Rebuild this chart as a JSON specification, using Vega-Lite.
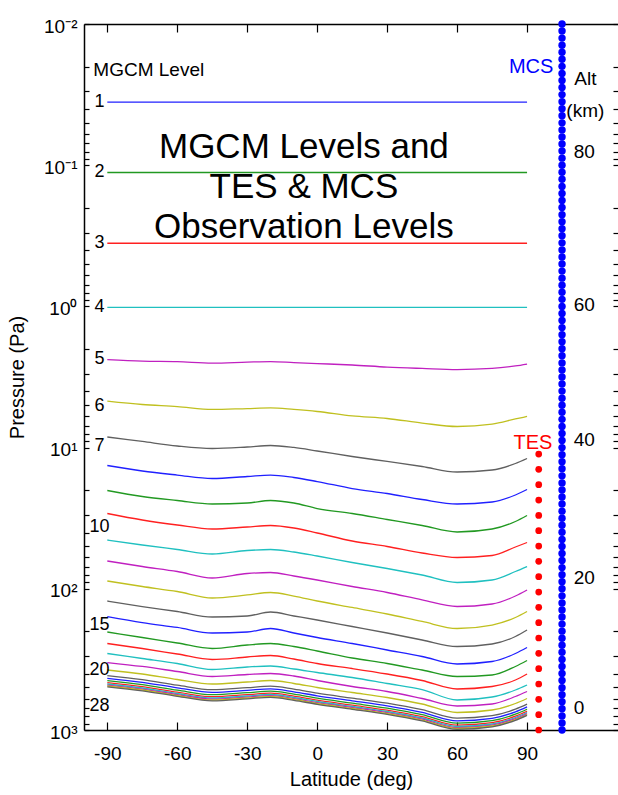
{
  "$schema": "https://vega.github.io/schema/vega-lite/v6.json",
  "width": 534,
  "height": 706,
  "autosize": {"type": "none"},
  "padding": {"left": 84, "top": 24, "right": 0, "bottom": 65},
  "background": "white",
  "config": {
    "view": {"stroke": null},
    "text": {"font": "Liberation Sans"},
    "axis": {"labelFont": "Liberation Sans", "titleFont": "Liberation Sans", "grid": false, "domainColor": "black", "tickColor": "black", "labelColor": "black", "titleColor": "black", "titleFontWeight": "normal", "domainWidth": 1.5, "tickWidth": 1.2}
  },
  "datasets": {
    "levels": [
      {"level":1,"lat":-90,"p":0.0357},{"level":1,"lat":90,"p":0.0357},
      {"level":2,"lat":-90,"p":0.1126},{"level":2,"lat":90,"p":0.1126},
      {"level":3,"lat":-90,"p":0.357},{"level":3,"lat":90,"p":0.357},
      {"level":4,"lat":-90,"p":1.015},{"level":4,"lat":90,"p":1.015},
      {"level":5,"lat":-90,"p":2.38},{"level":5,"lat":-75,"p":2.44},{"level":5,"lat":-60,"p":2.46},{"level":5,"lat":-45,"p":2.52},{"level":5,"lat":-30,"p":2.48},{"level":5,"lat":-20,"p":2.46},{"level":5,"lat":-10,"p":2.50},{"level":5,"lat":0,"p":2.54},{"level":5,"lat":15,"p":2.60},{"level":5,"lat":30,"p":2.69},{"level":5,"lat":45,"p":2.75},{"level":5,"lat":60,"p":2.80},{"level":5,"lat":75,"p":2.75},{"level":5,"lat":85,"p":2.64},{"level":5,"lat":90,"p":2.56},
      {"level":6,"lat":-90,"p":4.68},{"level":6,"lat":-75,"p":4.95},{"level":6,"lat":-60,"p":5.12},{"level":6,"lat":-45,"p":5.37},{"level":6,"lat":-30,"p":5.29},{"level":6,"lat":-20,"p":5.24},{"level":6,"lat":-10,"p":5.37},{"level":6,"lat":0,"p":5.55},{"level":6,"lat":15,"p":5.97},{"level":6,"lat":30,"p":6.22},{"level":6,"lat":45,"p":6.70},{"level":6,"lat":60,"p":7.09},{"level":6,"lat":75,"p":6.81},{"level":6,"lat":85,"p":6.27},{"level":6,"lat":90,"p":6.02},
      {"level":7,"lat":-90,"p":8.41},{"level":7,"lat":-75,"p":9.05},{"level":7,"lat":-60,"p":9.74},{"level":7,"lat":-45,"p":10.15},{"level":7,"lat":-30,"p":9.90},{"level":7,"lat":-20,"p":9.66},{"level":7,"lat":-10,"p":9.98},{"level":7,"lat":0,"p":10.57},{"level":7,"lat":15,"p":11.56},{"level":7,"lat":30,"p":12.54},{"level":7,"lat":45,"p":13.61},{"level":7,"lat":60,"p":14.89},{"level":7,"lat":75,"p":14.41},{"level":7,"lat":85,"p":12.96},{"level":7,"lat":90,"p":11.95},
      {"level":8,"lat":-90,"p":13.39},{"level":8,"lat":-75,"p":14.65},{"level":8,"lat":-60,"p":15.64},{"level":8,"lat":-45,"p":16.55},{"level":8,"lat":-30,"p":16.02},{"level":8,"lat":-20,"p":15.64},{"level":8,"lat":-10,"p":16.28},{"level":8,"lat":0,"p":17.39},{"level":8,"lat":15,"p":19.49},{"level":8,"lat":30,"p":21.14},{"level":8,"lat":45,"p":23.31},{"level":8,"lat":60,"p":25.08},{"level":8,"lat":75,"p":24.28},{"level":8,"lat":85,"p":21.66},{"level":8,"lat":90,"p":19.81},
      {"level":9,"lat":-90,"p":20.13},{"level":9,"lat":-75,"p":22.20},{"level":9,"lat":-60,"p":23.69},{"level":9,"lat":-45,"p":25.08},{"level":9,"lat":-30,"p":24.68},{"level":9,"lat":-20,"p":23.69},{"level":9,"lat":-10,"p":24.68},{"level":9,"lat":0,"p":27.01},{"level":9,"lat":15,"p":29.29},{"level":9,"lat":30,"p":32.30},{"level":9,"lat":45,"p":35.62},{"level":9,"lat":60,"p":39.60},{"level":9,"lat":75,"p":37.71},{"level":9,"lat":85,"p":33.38},{"level":9,"lat":90,"p":30.26},
      {"level":10,"lat":-90,"p":29.29},{"level":10,"lat":-75,"p":32.56},{"level":10,"lat":-60,"p":35.33},{"level":10,"lat":-45,"p":37.71},{"level":10,"lat":-30,"p":36.50},{"level":10,"lat":-20,"p":35.62},{"level":10,"lat":-10,"p":37.10},{"level":10,"lat":0,"p":40.25},{"level":10,"lat":15,"p":45.86},{"level":10,"lat":30,"p":50.17},{"level":10,"lat":45,"p":55.78},{"level":10,"lat":60,"p":60.02},{"level":10,"lat":75,"p":58.10},{"level":10,"lat":85,"p":50.58},{"level":10,"lat":90,"p":47.00},
      {"level":11,"lat":-90,"p":45.11},{"level":11,"lat":-75,"p":48.95},{"level":11,"lat":-60,"p":52.69},{"level":11,"lat":-45,"p":56.68},{"level":11,"lat":-30,"p":53.56},{"level":11,"lat":-20,"p":52.69},{"level":11,"lat":-10,"p":54.88},{"level":11,"lat":0,"p":58.57},{"level":11,"lat":15,"p":65.13},{"level":11,"lat":30,"p":71.81},{"level":11,"lat":45,"p":79.86},{"level":11,"lat":60,"p":90.24},{"level":11,"lat":75,"p":86.63},{"level":11,"lat":85,"p":75.42},{"level":11,"lat":90,"p":69.52},
      {"level":12,"lat":-90,"p":63.55},{"level":12,"lat":-75,"p":69.52},{"level":12,"lat":-60,"p":75.42},{"level":12,"lat":-45,"p":83.83},{"level":12,"lat":-30,"p":77.91},{"level":12,"lat":-20,"p":76.66},{"level":12,"lat":-10,"p":81.17},{"level":12,"lat":0,"p":86.63},{"level":12,"lat":15,"p":96.31},{"level":12,"lat":30,"p":106.2},{"level":12,"lat":45,"p":120.0},{"level":12,"lat":60,"p":133.5},{"level":12,"lat":75,"p":128.1},{"level":12,"lat":85,"p":112.5},{"level":12,"lat":90,"p":102.0},
      {"level":13,"lat":-90,"p":88.06},{"level":13,"lat":-75,"p":96.31},{"level":13,"lat":-60,"p":104.5},{"level":13,"lat":-45,"p":116.2},{"level":13,"lat":-30,"p":110.6},{"level":13,"lat":-20,"p":106.2},{"level":13,"lat":-10,"p":112.5},{"level":13,"lat":0,"p":122.0},{"level":13,"lat":15,"p":135.6},{"level":13,"lat":30,"p":150.8},{"level":13,"lat":45,"p":170.4},{"level":13,"lat":60,"p":191.0},{"level":13,"lat":75,"p":180.5},{"level":13,"lat":85,"p":159.7},{"level":13,"lat":90,"p":144.8},
      {"level":14,"lat":-90,"p":122.0},{"level":14,"lat":-75,"p":133.5},{"level":14,"lat":-60,"p":144.8},{"level":14,"lat":-45,"p":158.4},{"level":14,"lat":-30,"p":155.8},{"level":14,"lat":-20,"p":146.0},{"level":14,"lat":-10,"p":155.8},{"level":14,"lat":0,"p":166.3},{"level":14,"lat":15,"p":184.9},{"level":14,"lat":30,"p":205.6},{"level":14,"lat":45,"p":230.5},{"level":14,"lat":60,"p":256.3},{"level":14,"lat":75,"p":246.0},{"level":14,"lat":85,"p":217.7},{"level":14,"lat":90,"p":195.8},
      {"level":15,"lat":-90,"p":157.1},{"level":15,"lat":-75,"p":173.3},{"level":15,"lat":-60,"p":187.9},{"level":15,"lat":-45,"p":205.6},{"level":15,"lat":-30,"p":202.3},{"level":15,"lat":-20,"p":191.0},{"level":15,"lat":-10,"p":205.6},{"level":15,"lat":0,"p":221.3},{"level":15,"lat":15,"p":244.0},{"level":15,"lat":30,"p":271.3},{"level":15,"lat":45,"p":301.6},{"level":15,"lat":60,"p":340.9},{"level":15,"lat":75,"p":327.3},{"level":15,"lat":85,"p":287.2},{"level":15,"lat":90,"p":260.4},
      {"level":16,"lat":-90,"p":202.3},{"level":16,"lat":-75,"p":221.3},{"level":16,"lat":-60,"p":242.0},{"level":16,"lat":-45,"p":264.7},{"level":16,"lat":-30,"p":250.0},{"level":16,"lat":-20,"p":244.0},{"level":16,"lat":-10,"p":256.3},{"level":16,"lat":0,"p":275.7},{"level":16,"lat":15,"p":309.1},{"level":16,"lat":30,"p":338.1},{"level":16,"lat":45,"p":375.9},{"level":16,"lat":60,"p":417.9},{"level":16,"lat":75,"p":407.8},{"level":16,"lat":85,"p":354.9},{"level":16,"lat":90,"p":322.0},
      {"level":17,"lat":-90,"p":244.0},{"level":17,"lat":-75,"p":264.7},{"level":17,"lat":-60,"p":289.6},{"level":17,"lat":-45,"p":316.7},{"level":17,"lat":-30,"p":304.1},{"level":17,"lat":-20,"p":296.8},{"level":17,"lat":-10,"p":314.1},{"level":17,"lat":0,"p":338.1},{"level":17,"lat":15,"p":366.8},{"level":17,"lat":30,"p":401.2},{"level":17,"lat":45,"p":446.1},{"level":17,"lat":60,"p":512.4},{"level":17,"lat":75,"p":491.9},{"level":17,"lat":85,"p":442.5},{"level":17,"lat":90,"p":401.2},
      {"level":18,"lat":-90,"p":287.2},{"level":18,"lat":-75,"p":311.6},{"level":18,"lat":-60,"p":338.1},{"level":18,"lat":-45,"p":372.8},{"level":18,"lat":-30,"p":357.9},{"level":18,"lat":-20,"p":352.1},{"level":18,"lat":-10,"p":369.8},{"level":18,"lat":0,"p":391.5},{"level":18,"lat":15,"p":424.8},{"level":18,"lat":30,"p":468.5},{"level":18,"lat":45,"p":516.7},{"level":18,"lat":60,"p":613.0},{"level":18,"lat":75,"p":583.8},{"level":18,"lat":85,"p":520.9},{"level":18,"lat":90,"p":480.1},
      {"level":19,"lat":-90,"p":332.7},{"level":19,"lat":-75,"p":354.9},{"level":19,"lat":-60,"p":385.2},{"level":19,"lat":-45,"p":417.9},{"level":19,"lat":-30,"p":404.5},{"level":19,"lat":-20,"p":398.0},{"level":19,"lat":-10,"p":414.5},{"level":19,"lat":0,"p":446.1},{"level":19,"lat":15,"p":491.9},{"level":19,"lat":30,"p":533.7},{"level":19,"lat":45,"p":598.3},{"level":19,"lat":60,"p":676.1},{"level":19,"lat":75,"p":654.5},{"level":19,"lat":85,"p":579.1},{"level":19,"lat":90,"p":533.7},
      {"level":20,"lat":-90,"p":375.9},{"level":20,"lat":-75,"p":401.2},{"level":20,"lat":-60,"p":438.9},{"level":20,"lat":-45,"p":472.3},{"level":20,"lat":-30,"p":457.2},{"level":20,"lat":-20,"p":446.1},{"level":20,"lat":-10,"p":468.5},{"level":20,"lat":0,"p":500.0},{"level":20,"lat":15,"p":542.5},{"level":20,"lat":30,"p":588.6},{"level":20,"lat":45,"p":654.5},{"level":20,"lat":60,"p":751.7},{"level":20,"lat":75,"p":721.7},{"level":20,"lat":85,"p":649.2},{"level":20,"lat":90,"p":598.3},
      {"level":21,"lat":-90,"p":412.5},{"level":21,"lat":-75,"p":440.3},{"level":21,"lat":-60,"p":481.6},{"level":21,"lat":-45,"p":518.3},{"level":21,"lat":-30,"p":501.7},{"level":21,"lat":-20,"p":489.6},{"level":21,"lat":-10,"p":514.1},{"level":21,"lat":0,"p":548.7},{"level":21,"lat":15,"p":595.3},{"level":21,"lat":30,"p":645.9},{"level":21,"lat":45,"p":718.3},{"level":21,"lat":60,"p":824.9},{"level":21,"lat":75,"p":792.0},{"level":21,"lat":85,"p":712.4},{"level":21,"lat":90,"p":656.6},
      {"level":22,"lat":-90,"p":430.5},{"level":22,"lat":-75,"p":459.5},{"level":22,"lat":-60,"p":502.6},{"level":22,"lat":-45,"p":540.9},{"level":22,"lat":-30,"p":523.6},{"level":22,"lat":-20,"p":510.9},{"level":22,"lat":-10,"p":536.5},{"level":22,"lat":0,"p":572.6},{"level":22,"lat":15,"p":621.3},{"level":22,"lat":30,"p":674.1},{"level":22,"lat":45,"p":749.5},{"level":22,"lat":60,"p":860.9},{"level":22,"lat":75,"p":826.5},{"level":22,"lat":85,"p":743.5},{"level":22,"lat":90,"p":685.2},
      {"level":23,"lat":-90,"p":447.6},{"level":23,"lat":-75,"p":477.7},{"level":23,"lat":-60,"p":522.6},{"level":23,"lat":-45,"p":562.4},{"level":23,"lat":-30,"p":544.4},{"level":23,"lat":-20,"p":531.2},{"level":23,"lat":-10,"p":557.8},{"level":23,"lat":0,"p":595.4},{"level":23,"lat":15,"p":646.0},{"level":23,"lat":30,"p":700.9},{"level":23,"lat":45,"p":779.3},{"level":23,"lat":60,"p":895.1},{"level":23,"lat":75,"p":859.3},{"level":23,"lat":85,"p":773.0},{"level":23,"lat":90,"p":712.4},
      {"level":24,"lat":-90,"p":462.4},{"level":24,"lat":-75,"p":493.5},{"level":24,"lat":-60,"p":539.9},{"level":24,"lat":-45,"p":581.0},{"level":24,"lat":-30,"p":562.4},{"level":24,"lat":-20,"p":548.8},{"level":24,"lat":-10,"p":576.3},{"level":24,"lat":0,"p":615.1},{"level":24,"lat":15,"p":667.3},{"level":24,"lat":30,"p":724.0},{"level":24,"lat":45,"p":805.1},{"level":24,"lat":60,"p":924.7},{"level":24,"lat":75,"p":887.8},{"level":24,"lat":85,"p":798.6},{"level":24,"lat":90,"p":736.0},
      {"level":25,"lat":-90,"p":472.3},{"level":25,"lat":-75,"p":504.1},{"level":25,"lat":-60,"p":551.5},{"level":25,"lat":-45,"p":593.4},{"level":25,"lat":-30,"p":574.5},{"level":25,"lat":-20,"p":560.5},{"level":25,"lat":-10,"p":588.7},{"level":25,"lat":0,"p":628.3},{"level":25,"lat":15,"p":681.7},{"level":25,"lat":30,"p":739.6},{"level":25,"lat":45,"p":822.4},{"level":25,"lat":60,"p":944.5},{"level":25,"lat":75,"p":906.8},{"level":25,"lat":85,"p":815.7},{"level":25,"lat":90,"p":751.8},
      {"level":26,"lat":-90,"p":480.8},{"level":26,"lat":-75,"p":513.2},{"level":26,"lat":-60,"p":561.4},{"level":26,"lat":-45,"p":604.1},{"level":26,"lat":-30,"p":584.8},{"level":26,"lat":-20,"p":570.6},{"level":26,"lat":-10,"p":599.3},{"level":26,"lat":0,"p":639.6},{"level":26,"lat":15,"p":693.9},{"level":26,"lat":30,"p":752.9},{"level":26,"lat":45,"p":837.2},{"level":26,"lat":60,"p":961.5},{"level":26,"lat":75,"p":923.1},{"level":26,"lat":85,"p":830.4},{"level":26,"lat":90,"p":765.3},
      {"level":27,"lat":-90,"p":488.0},{"level":27,"lat":-75,"p":520.8},{"level":27,"lat":-60,"p":569.8},{"level":27,"lat":-45,"p":613.1},{"level":27,"lat":-30,"p":593.5},{"level":27,"lat":-20,"p":579.1},{"level":27,"lat":-10,"p":608.2},{"level":27,"lat":0,"p":649.1},{"level":27,"lat":15,"p":704.3},{"level":27,"lat":30,"p":764.1},{"level":27,"lat":45,"p":849.7},{"level":27,"lat":60,"p":975.9},{"level":27,"lat":75,"p":936.9},{"level":27,"lat":85,"p":842.8},{"level":27,"lat":90,"p":776.7},
      {"level":28,"lat":-90,"p":494.4},{"level":28,"lat":-75,"p":527.7},{"level":28,"lat":-60,"p":577.2},{"level":28,"lat":-45,"p":621.2},{"level":28,"lat":-30,"p":601.3},{"level":28,"lat":-20,"p":586.7},{"level":28,"lat":-10,"p":616.2},{"level":28,"lat":0,"p":657.6},{"level":28,"lat":15,"p":713.5},{"level":28,"lat":30,"p":774.1},{"level":28,"lat":45,"p":860.8},{"level":28,"lat":60,"p":988.6},{"level":28,"lat":75,"p":949.2},{"level":28,"lat":85,"p":853.8},{"level":28,"lat":90,"p":786.9}
    ],
    "tes": [
      {"p":1000},{"p":778.8},{"p":606.5},{"p":472.4},{"p":367.9},{"p":286.5},{"p":223.1},{"p":173.8},{"p":135.3},{"p":105.4},{"p":82.08},{"p":63.93},{"p":49.79},{"p":38.77},{"p":30.20},{"p":23.52},{"p":18.32},{"p":14.26},{"p":11.11}
    ],
    "mcs": [
      {"p":1000},{"p":891.3},{"p":794.3},{"p":707.9},{"p":631.0},{"p":562.3},{"p":501.2},{"p":446.7},{"p":398.1},{"p":354.8},{"p":316.2},{"p":281.8},{"p":251.2},{"p":223.9},{"p":199.5},{"p":177.8},{"p":158.5},{"p":141.3},{"p":125.9},{"p":112.2},
      {"p":100},{"p":89.13},{"p":79.43},{"p":70.79},{"p":63.10},{"p":56.23},{"p":50.12},{"p":44.67},{"p":39.81},{"p":35.48},{"p":31.62},{"p":28.18},{"p":25.12},{"p":22.39},{"p":19.95},{"p":17.78},{"p":15.85},{"p":14.13},{"p":12.59},{"p":11.22},
      {"p":10},{"p":8.913},{"p":7.943},{"p":7.079},{"p":6.310},{"p":5.623},{"p":5.012},{"p":4.467},{"p":3.981},{"p":3.548},{"p":3.162},{"p":2.818},{"p":2.512},{"p":2.239},{"p":1.995},{"p":1.778},{"p":1.585},{"p":1.413},{"p":1.259},{"p":1.122},
      {"p":1},{"p":0.8913},{"p":0.7943},{"p":0.7079},{"p":0.6310},{"p":0.5623},{"p":0.5012},{"p":0.4467},{"p":0.3981},{"p":0.3548},{"p":0.3162},{"p":0.2818},{"p":0.2512},{"p":0.2239},{"p":0.1995},{"p":0.1778},{"p":0.1585},{"p":0.1413},{"p":0.1259},{"p":0.1122},
      {"p":0.1},{"p":0.08913},{"p":0.07943},{"p":0.07079},{"p":0.0631},{"p":0.05623},{"p":0.05012},{"p":0.04467},{"p":0.03981},{"p":0.03548},{"p":0.03162},{"p":0.02818},{"p":0.02512},{"p":0.02239},{"p":0.01995},{"p":0.01778},{"p":0.01585},{"p":0.01413},{"p":0.01259},{"p":0.01122},{"p":0.01}
    ],
    "levelLabels": [
      {"text":"1","p":0.0357},{"text":"2","p":0.1126},{"text":"3","p":0.357},{"text":"4","p":1.015},{"text":"5","p":2.37},{"text":"6","p":5.075},{"text":"7","p":9.74},{"text":"10","p":36.5},{"text":"15","p":180.5},{"text":"20","p":375.9},{"text":"28","p":676.1}
    ],
    "altLabels": [
      {"text":"80","p":0.0802},{"text":"60","p":0.977},{"text":"40","p":8.83},{"text":"20","p":83.9},{"text":"0","p":698.6}
    ],
    "altTitle": [{"text":"Alt","p":0.0247},{"text":"(km)","p":0.041}],
    "title": [{"text":"MGCM Levels and","p":0.0889},{"text":"TES & MCS","p":0.1707},{"text":"Observation Levels","p":0.3278}],
    "header": [{"text":"MGCM Level","p":0.0212}],
    "mcsLabel": [{"text":"MCS","p":0.0203}],
    "tesLabel": [{"text":"TES","p":9.35}]
  },
  "resolve": {"axis": {"x": "independent", "y": "independent"}},
  "layer": [
    {
      "data": {"name": "levels"},
      "mark": {"type": "line", "strokeWidth": 1.3, "interpolate": "monotone"},
      "encoding": {
        "x": {"field": "lat", "type": "quantitative",
          "scale": {"domain": [-100, 129], "nice": false, "zero": false},
          "axis": {"orient": "bottom", "values": [-90,-60,-30,0,30,60,90], "labelExpr": "'' + datum.value", "title": "Latitude (deg)", "tickSize": -8, "labelPadding": 22, "labelFontSize": 19, "titleFontSize": 20, "titlePadding": 6}},
        "y": {"field": "p", "type": "quantitative",
          "scale": {"type": "log", "domain": [0.01, 1000], "nice": false, "reverse": true},
          "axis": {"orient": "left",
            "values": [0.01,0.02,0.03,0.04,0.05,0.06,0.07,0.08,0.09,0.1,0.2,0.3,0.4,0.5,0.6,0.7,0.8,0.9,1,2,3,4,5,6,7,8,9,10,20,30,40,50,60,70,80,90,100,200,300,400,500,600,700,800,900,1000],
            "labelExpr": "indexof([0.01,0.1,1,10,100,1000], datum.value) >= 0 ? '10' + ['⁻²','⁻¹','⁰','¹','²','³'][indexof([0.01,0.1,1,10,100,1000], datum.value)] : ''",
            "labelOverlap": false, "labelFlush": false, "labelBound": false,
            "title": "Pressure (Pa)", "tickSize": -5, "labelPadding": 12, "labelOffset": 2, "labelFontSize": 19, "titleFontSize": 20, "titlePadding": 16}},
        "color": {"field": "level", "type": "nominal",
          "scale": {"domain": [1,2,3,4,5,6,7,8,9,10,11,12,13,14,15,16,17,18,19,20,21,22,23,24,25,26,27,28],
            "range": ["#2020ff","#229922","#ff2020","#20c0c0","#c020c0","#c0c020","#606060","#2020ff","#229922","#ff2020","#20c0c0","#c020c0","#c0c020","#606060","#2020ff","#229922","#ff2020","#20c0c0","#c020c0","#c0c020","#606060","#2020ff","#229922","#ff2020","#20c0c0","#c020c0","#c0c020","#606060"]},
          "legend": null}
      }
    },
    {
      "data": {"name": "tes"},
      "mark": {"type": "circle", "size": 45, "opacity": 1, "color": "#ff0000"},
      "encoding": {
        "x": {"datum": 95, "type": "quantitative",
          "scale": {"domain": [-100, 129], "nice": false, "zero": false},
          "axis": {"orient": "top", "values": [-90,-60,-30,0,30,60,90], "labels": false, "title": null, "tickSize": -8}},
        "y": {"field": "p", "type": "quantitative",
          "scale": {"type": "log", "domain": [0.01, 1000], "nice": false, "reverse": true},
          "axis": {"orient": "right", "values": [0.01,0.02,0.03,0.04,0.05,0.06,0.07,0.08,0.09,0.1,0.2,0.3,0.4,0.5,0.6,0.7,0.8,0.9,1,2,3,4,5,6,7,8,9,10,20,30,40,50,60,70,80,90,100,200,300,400,500,600,700,800,900,1000], "labels": false, "title": null, "tickSize": -5, "domain": false}}
      }
    },
    {
      "data": {"name": "mcs"},
      "mark": {"type": "circle", "size": 55, "opacity": 1, "color": "#0000ff"},
      "encoding": {
        "x": {"datum": 105, "type": "quantitative", "axis": null},
        "y": {"field": "p", "type": "quantitative", "axis": null}
      }
    },
    {
      "data": {"name": "levelLabels"},
      "mark": {"type": "text", "fontSize": 18, "align": "center", "baseline": "middle", "color": "black"},
      "encoding": {
        "x": {"datum": -93.3, "type": "quantitative", "axis": null},
        "y": {"field": "p", "type": "quantitative", "axis": null},
        "text": {"field": "text"}
      }
    },
    {
      "data": {"name": "header"},
      "mark": {"type": "text", "fontSize": 19, "align": "left", "baseline": "middle", "color": "black"},
      "encoding": {
        "x": {"datum": -96, "type": "quantitative", "axis": null},
        "y": {"field": "p", "type": "quantitative", "axis": null},
        "text": {"field": "text"}
      }
    },
    {
      "data": {"name": "altLabels"},
      "mark": {"type": "text", "fontSize": 19, "align": "left", "baseline": "middle", "color": "black"},
      "encoding": {
        "x": {"datum": 110, "type": "quantitative", "axis": null},
        "y": {"field": "p", "type": "quantitative", "axis": null},
        "text": {"field": "text"}
      }
    },
    {
      "data": {"name": "altTitle"},
      "mark": {"type": "text", "fontSize": 19, "align": "center", "baseline": "middle", "color": "black"},
      "encoding": {
        "x": {"datum": 115, "type": "quantitative", "axis": null},
        "y": {"field": "p", "type": "quantitative", "axis": null},
        "text": {"field": "text"}
      }
    },
    {
      "data": {"name": "mcsLabel"},
      "mark": {"type": "text", "fontSize": 20, "align": "right", "baseline": "middle", "color": "#0000ff"},
      "encoding": {
        "x": {"datum": 101.3, "type": "quantitative", "axis": null},
        "y": {"field": "p", "type": "quantitative", "axis": null},
        "text": {"field": "text"}
      }
    },
    {
      "data": {"name": "tesLabel"},
      "mark": {"type": "text", "fontSize": 20, "align": "right", "baseline": "middle", "color": "#ff0000"},
      "encoding": {
        "x": {"datum": 100.9, "type": "quantitative", "axis": null},
        "y": {"field": "p", "type": "quantitative", "axis": null},
        "text": {"field": "text"}
      }
    },
    {
      "data": {"name": "title"},
      "mark": {"type": "text", "fontSize": 35, "align": "center", "baseline": "alphabetic", "color": "black"},
      "encoding": {
        "x": {"datum": -5.7, "type": "quantitative", "axis": null},
        "y": {"field": "p", "type": "quantitative", "axis": null},
        "text": {"field": "text"}
      }
    }
  ]
}
